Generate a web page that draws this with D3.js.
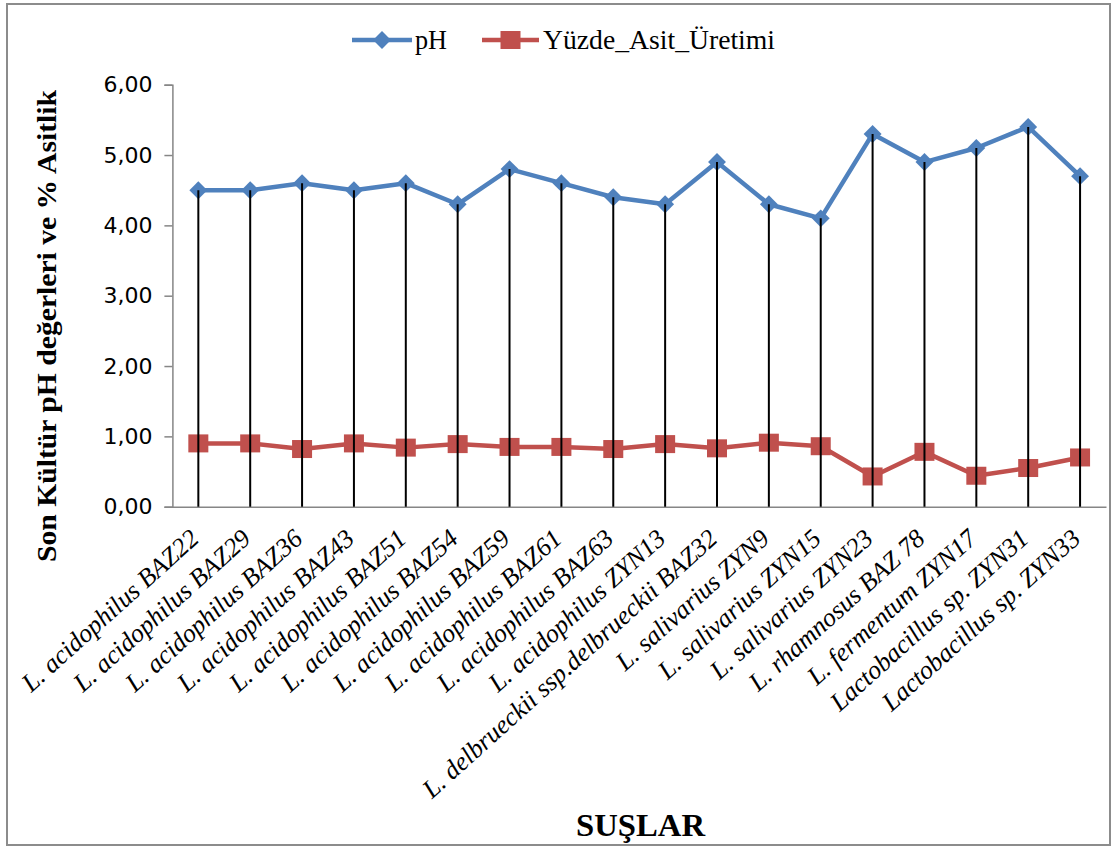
<!DOCTYPE html>
<html><head><meta charset="utf-8">
<script src="https://cdn.jsdelivr.net/npm/d3@7"></script>
<style>body{margin:0;background:#fff}svg{display:block}</style>
</head><body><svg id="c" width="1113" height="848"></svg>
<script>
const categories = ["L. acidophilus BAZ22","L. acidophilus BAZ29","L. acidophilus BAZ36","L. acidophilus BAZ43","L. acidophilus BAZ51","L. acidophilus BAZ54","L. acidophilus BAZ59","L. acidophilus BAZ61","L. acidophilus BAZ63","L. acidophilus ZYN13","L. delbrueckii ssp.delbrueckii BAZ32","L. salivarius ZYN9","L. salivarius ZYN15","L. salivarius ZYN23","L. rhamnosus BAZ 78","L. fermentum ZYN17","Lactobacillus sp. ZYN31","Lactobacillus sp. ZYN33"];
const phValues = [4.5,4.5,4.6,4.5,4.6,4.3,4.8,4.6,4.4,4.3,4.9,4.3,4.1,5.3,4.9,5.1,5.4,4.7];
const acidValues = [0.90,0.90,0.82,0.90,0.84,0.89,0.85,0.85,0.82,0.89,0.83,0.91,0.86,0.43,0.78,0.44,0.55,0.70];
const yTicks = [0,1,2,3,4,5,6];
const seriesNames = ["pH","Yüzde_Asit_Üretimi"];
const colors = ["#4F81BD","#C0504D"];

const svg = d3.select("#c");
svg.append("rect").attr("x",7).attr("y",4).attr("width",1103).attr("height",841)
  .attr("fill","#fff").attr("stroke","#8c8c8c").attr("stroke-width",2);

const pLeft=172.4, pRight=1106, pTop=84.7, pBottom=506.7;
const x = d3.scaleBand().domain(categories).range([pLeft,pRight]);
const y = d3.scaleLinear().domain([0,6]).range([pBottom,pTop]);
const cx = d => x(d)+x.bandwidth()/2;

// y axis
const yAxis = svg.append("g").attr("transform",`translate(${pLeft},0)`)
  .call(d3.axisLeft(y).tickValues(yTicks).tickSize(8).tickPadding(12)
    .tickFormat(d=>d3.format(".2f")(d).replace(".",",")));
yAxis.select(".domain").attr("stroke","#868686").attr("stroke-width",1.5);
yAxis.selectAll(".tick line").attr("stroke","#868686").attr("stroke-width",1.5);
yAxis.selectAll(".tick text").attr("font-family","DejaVu Sans").attr("font-size",22).attr("fill","#000");

// x axis
const xAxis = svg.append("g").attr("transform",`translate(0,${pBottom})`)
  .call(d3.axisBottom(x).tickSize(0).tickPadding(0));
xAxis.select(".domain").attr("stroke","#868686").attr("stroke-width",1.5);
xAxis.selectAll(".tick text").remove();
xAxis.selectAll(".tick").append("text")
  .attr("text-anchor","end")
  .attr("transform","translate(2,34) rotate(-42)")
  .attr("font-family","Liberation Serif").attr("font-style","italic")
  .attr("font-size",26).attr("fill","#000")
  .text(d=>d);

// lines
const line = d3.line().x((d,i)=>cx(categories[i])).y(d=>y(d));
svg.append("path").datum(phValues).attr("d",line).attr("fill","none")
  .attr("stroke",colors[0]).attr("stroke-width",4.5).attr("stroke-linejoin","round");
svg.append("path").datum(acidValues).attr("d",line).attr("fill","none")
  .attr("stroke",colors[1]).attr("stroke-width",4.5).attr("stroke-linejoin","round");

const diamond = d3.symbol().type(d3.symbolSquare).size(160);
svg.append("g").selectAll("path").data(phValues).join("path")
  .attr("d",diamond)
  .attr("transform",(d,i)=>`translate(${cx(categories[i])},${y(d)}) rotate(45)`)
  .attr("fill",colors[0]);
svg.append("g").selectAll("rect").data(acidValues).join("rect")
  .attr("x",(d,i)=>cx(categories[i])-10).attr("y",d=>y(d)-9)
  .attr("width",20).attr("height",18).attr("fill",colors[1]);

// drop lines
svg.append("g").selectAll("line").data(categories).join("line")
  .attr("x1",d=>cx(d)).attr("x2",d=>cx(d))
  .attr("y1",(d,i)=>y(Math.max(phValues[i],acidValues[i]))).attr("y2",pBottom)
  .attr("stroke","#000").attr("stroke-width",2);

// legend
const leg = svg.append("g");
const legItems = [{x:352,w:60,tx:415,tl:32},{x:482,w:57,tx:543,tl:232}];
legItems.forEach((it,i)=>{
  leg.append("line").attr("x1",it.x).attr("x2",it.x+it.w).attr("y1",40).attr("y2",40)
    .attr("stroke",colors[i]).attr("stroke-width",4.5);
  if(i===0){
    leg.append("path").attr("d",diamond).attr("transform",`translate(${it.x+it.w/2},40) rotate(45)`).attr("fill",colors[0]);
  } else {
    leg.append("rect").attr("x",it.x+it.w/2-10).attr("y",31).attr("width",20).attr("height",18).attr("fill",colors[1]);
  }
  leg.append("text").attr("x",it.tx).attr("y",49).attr("font-family","Liberation Serif")
    .attr("font-size",27).attr("textLength",it.tl).attr("lengthAdjust","spacingAndGlyphs")
    .attr("fill","#000").text(seriesNames[i]);
});

// axis titles
svg.append("text").attr("transform","translate(56,326) rotate(-90)")
  .attr("text-anchor","middle").attr("font-family","Liberation Serif").attr("font-weight","bold")
  .attr("font-size",28).attr("textLength",472).attr("lengthAdjust","spacingAndGlyphs")
  .attr("fill","#000").text("Son Kültür pH değerleri ve % Asitlik");
svg.append("text").attr("x",576).attr("y",836)
  .attr("font-family","Liberation Serif").attr("font-weight","bold").attr("font-size",31)
  .attr("textLength",129).attr("lengthAdjust","spacingAndGlyphs")
  .attr("fill","#000").text("SUŞLAR");
</script></body></html>
